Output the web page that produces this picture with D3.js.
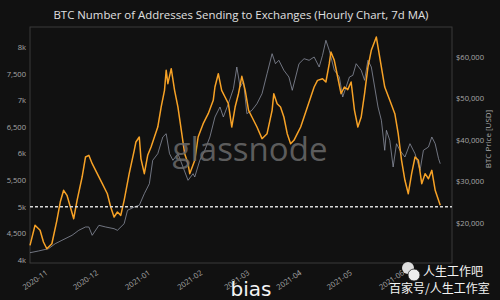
<!DOCTYPE html>
<meta charset="utf-8">
<head>
	<script src="https://cdn.jsdelivr.net/npm/d3@7"></script>
	<style>
		body { margin: 0; background: #111; }
		text { font-family: "Open Sans", "DejaVu Sans", sans-serif; }
	</style>
</head>
<body>
<div id="svg-container"></div>
<script>

////////////////////////////////////
// DATA
////////////////////////////////////

const addrDates = ['2020-10-22','2020-10-25','2020-10-28','2020-10-30','2020-11-01','2020-11-04','2020-11-07','2020-11-09','2020-11-11','2020-11-13','2020-11-15','2020-11-17','2020-11-19','2020-11-22','2020-11-24','2020-11-26','2020-11-28','2020-12-01','2020-12-04','2020-12-07','2020-12-09','2020-12-11','2020-12-13','2020-12-15','2020-12-17','2020-12-20','2020-12-23','2020-12-24','2020-12-26','2020-12-27','2020-12-29','2020-12-31','2021-01-02','2021-01-04','2021-01-06','2021-01-08','2021-01-10','2021-01-11','2021-01-12','2021-01-14','2021-01-16','2021-01-18','2021-01-20','2021-01-22','2021-01-24','2021-01-25','2021-01-28','2021-01-30','2021-02-02','2021-02-05','2021-02-08','2021-02-09','2021-02-11','2021-02-13','2021-02-15','2021-02-17','2021-02-19','2021-02-21','2021-02-23','2021-02-25','2021-02-27','2021-03-01','2021-03-03','2021-03-06','2021-03-09','2021-03-12','2021-03-15','2021-03-16','2021-03-18','2021-03-20','2021-03-22','2021-03-24','2021-03-26','2021-03-28','2021-03-30','2021-04-01','2021-04-03','2021-04-05','2021-04-07','2021-04-09','2021-04-11','2021-04-14','2021-04-16','2021-04-18','2021-04-19','2021-04-21','2021-04-23','2021-04-25','2021-04-27','2021-04-29','2021-05-01','2021-05-03','2021-05-05','2021-05-07','2021-05-09','2021-05-11','2021-05-13','2021-05-16','2021-05-17','2021-05-19','2021-05-21','2021-05-24','2021-05-27','2021-05-29','2021-05-31','2021-06-02','2021-06-04','2021-06-06','2021-06-08','2021-06-10','2021-06-12','2021-06-14','2021-06-16','2021-06-18','2021-06-20','2021-06-22','2021-06-23']
const addrValues = [4276,4652,4558,4338,4212,4306,4745,5089,5309,5215,4995,4776,5121,5559,5934,5966,5809,5621,5433,5245,4995,4808,4901,4839,5121,5621,6060,6216,6310,5900,5621,5966,6122,6310,6498,6873,7187,7563,7311,7593,7187,6873,6436,5996,5809,5621,5872,6310,6560,6748,6999,7249,7499,7187,7061,6936,6498,6873,7123,7450,7187,6811,6686,6498,6279,6373,6811,7123,6936,6873,6686,6373,6185,6248,6373,6498,6686,6873,7061,7249,7374,7405,7343,7687,7906,7750,7437,7123,7249,7200,7343,6811,6498,6686,7123,7624,7938,8188,8000,7624,7249,6999,6748,6373,5872,5497,5245,5621,5934,5872,5433,5621,5527,5684,5309,5121,5027]

const priceDates = ['2020-10-22','2020-10-27','2020-11-02','2020-11-06','2020-11-10','2020-11-16','2020-11-20','2020-11-24','2020-11-26','2020-11-28','2020-12-02','2020-12-06','2020-12-11','2020-12-13','2020-12-17','2020-12-19','2020-12-23','2020-12-26','2020-12-29','2021-01-01','2021-01-03','2021-01-06','2021-01-09','2021-01-11','2021-01-13','2021-01-15','2021-01-18','2021-01-21','2021-01-24','2021-01-27','2021-01-28','2021-01-31','2021-02-03','2021-02-06','2021-02-09','2021-02-12','2021-02-14','2021-02-17','2021-02-20','2021-02-22','2021-02-24','2021-02-26','2021-02-28','2021-03-03','2021-03-06','2021-03-09','2021-03-12','2021-03-15','2021-03-17','2021-03-19','2021-03-22','2021-03-25','2021-03-27','2021-03-29','2021-03-31','2021-04-03','2021-04-06','2021-04-09','2021-04-12','2021-04-14','2021-04-16','2021-04-18','2021-04-21','2021-04-24','2021-04-26','2021-04-28','2021-04-30','2021-05-02','2021-05-04','2021-05-07','2021-05-09','2021-05-11','2021-05-13','2021-05-15','2021-05-17','2021-05-19','2021-05-21','2021-05-22','2021-05-24','2021-05-26','2021-05-28','2021-05-30','2021-06-02','2021-06-05','2021-06-08','2021-06-11','2021-06-13','2021-06-16','2021-06-18','2021-06-20','2021-06-22','2021-06-23']
const priceValues = [12771,13180,13735,14940,15759,16963,18168,18964,18964,16963,19373,18964,18554,18168,19759,22988,23783,24193,26988,29398,35036,36627,40651,41446,36627,35036,36627,33422,30217,31807,31012,35036,37446,40651,45470,47880,45470,48675,52289,57518,52699,54000,46265,47084,48675,51084,55904,60723,58313,59133,56723,55108,51904,55108,58313,59518,59133,59928,57518,60337,63952,61542,56723,55108,50289,52699,55108,55500,58313,56723,54313,59133,57518,52699,47880,44675,37446,42265,39855,33422,39036,37446,35831,39036,36627,32626,37446,38241,40651,39036,35422,34217]

const leftTicks = [4000, 4500, 5000, 5500, 6000, 6500, 7000, 7500, 8000]
const rightTicks = [20000, 30000, 40000, 50000, 60000]
const refLevel = 5000
const dateRange = ['2020-10-22', '2021-06-30']

////////////////////////////////////
// SETUP
////////////////////////////////////

const W = 500, H = 300
const margin = {top: 27, right: 48, bottom: 37, left: 30},
	width = W - margin.left - margin.right,
	height = H - margin.top - margin.bottom

const parse = d3.utcParse('%Y-%m-%d')

const addrData = addrDates.map((d, i) => ({date: parse(d), value: addrValues[i]}))
const priceData = priceDates.map((d, i) => ({date: parse(d), value: priceValues[i]}))

const svg = d3.select('#svg-container').append('svg')
	.attr('width', W)
	.attr('height', H)
	.style('background', '#111')

const g = svg.append('g')
	.attr('transform', `translate(${margin.left},${margin.top})`)

const xScale = d3.scaleUtc()
	.domain(dateRange.map(parse))
	.range([0, width])

const yLeft = d3.scaleLinear()
	.domain([3944, 8376])
	.range([height, 0])

const yRight = d3.scaleLinear()
	.domain([10289, 67157])
	.range([height, 0])

////////////////////////////////////
// TITLE + WATERMARK
////////////////////////////////////

svg.append('text')
	.attr('x', 241)
	.attr('y', 19)
	.attr('text-anchor', 'middle')
	.attr('fill', '#e0e0e0')
	.style('font-size', '11.4px')
	.text('BTC Number of Addresses Sending to Exchanges (Hourly Chart, 7d MA)')

svg.append('text')
	.attr('x', 250)
	.attr('y', 161)
	.attr('text-anchor', 'middle')
	.attr('fill', '#6a6a6a')
	.attr('opacity', 0.85)
	.style('font-size', '33px')
	.style('font-weight', 500)
	.text('glassnode')

////////////////////////////////////
// AXES
////////////////////////////////////

const fmtLeft = d => d % 1000 === 0 ? `${d / 1000}k` : d3.format(',')(d)

const leftAxis = g.append('g')
	.call(d3.axisLeft(yLeft).tickValues(leftTicks).tickFormat(fmtLeft).tickSize(0).tickPadding(4))
leftAxis.select('.domain').remove()

const rightAxis = g.append('g')
	.attr('transform', `translate(${width},0)`)
	.call(d3.axisRight(yRight).tickValues(rightTicks).tickFormat(d => '$' + d3.format(',')(d)).tickSize(0).tickPadding(4))
rightAxis.select('.domain').remove()

const xAxis = g.append('g')
	.attr('transform', `translate(0,${height})`)
	.call(d3.axisBottom(xScale).ticks(d3.utcMonth.every(1)).tickFormat(d3.utcFormat('%Y-%m')).tickSize(0))
xAxis.select('.domain').remove()
xAxis.selectAll('text')
	.attr('text-anchor', 'end')
	.attr('y', 0)
	.attr('dy', 0)
	.attr('transform', 'translate(1,11) rotate(-35)')

svg.selectAll('.tick text')
	.attr('fill', '#a8a8a8')
	.style('font-size', '7.6px')

g.append('rect')
	.attr('width', width)
	.attr('height', height)
	.attr('fill', 'none')
	.attr('stroke', '#3a3a3a')
	.attr('stroke-width', 1)

svg.append('text')
	.attr('transform', `translate(491,${margin.top + height / 2 - 6}) rotate(-90)`)
	.attr('text-anchor', 'middle')
	.attr('fill', '#a8a8a8')
	.style('font-size', '8px')
	.text('BTC Price [USD]')

////////////////////////////////////
// LINES
////////////////////////////////////

const priceLine = d3.line()
	.x(d => xScale(d.date))
	.y(d => yRight(d.value))

const addrLine = d3.line()
	.x(d => xScale(d.date))
	.y(d => yLeft(d.value))

g.append('path')
	.datum(priceData)
	.attr('d', priceLine)
	.attr('fill', 'none')
	.attr('stroke', '#9095a6')
	.attr('stroke-opacity', 0.75)
	.attr('stroke-width', 1)

g.append('path')
	.datum(addrData)
	.attr('d', addrLine)
	.attr('fill', 'none')
	.attr('stroke', '#f7a226')
	.attr('stroke-width', 1.5)
	.attr('stroke-linejoin', 'round')

g.append('line')
	.attr('x1', 0)
	.attr('x2', width)
	.attr('y1', yLeft(refLevel))
	.attr('y2', yLeft(refLevel))
	.attr('stroke', '#d8d8d8')
	.attr('stroke-width', 1.3)
	.attr('stroke-dasharray', '3,2')

////////////////////////////////////
// OVERLAY TEXT
////////////////////////////////////

svg.append('text')
	.attr('x', 251)
	.attr('y', 296)
	.attr('text-anchor', 'middle')
	.attr('fill', '#f4f4f4')
	.style('font-size', '20px')
	.style('font-family', '"DejaVu Sans"')
	.text('bias')

const wm = svg.append('g')
wm.append('circle').attr('cx', 408).attr('cy', 268).attr('r', 6).attr('fill', '#ddd')
wm.append('circle').attr('cx', 414).attr('cy', 275).attr('r', 6).attr('fill', '#eee').attr('stroke', '#222').attr('stroke-width', 0.8)

wm.append('text')
	.attr('x', 423)
	.attr('y', 276)
	.attr('fill', '#f4f4f4')
	.style('font-family', '"Noto Sans CJK SC"')
	.style('font-size', '12px')
	.text('人生工作吧')

wm.append('text')
	.attr('x', 389)
	.attr('y', 293)
	.attr('fill', '#f4f4f4')
	.style('font-family', '"Noto Sans CJK SC"')
	.style('font-size', '12px')
	.text('百家号/人生工作室')

</script>
</body>
